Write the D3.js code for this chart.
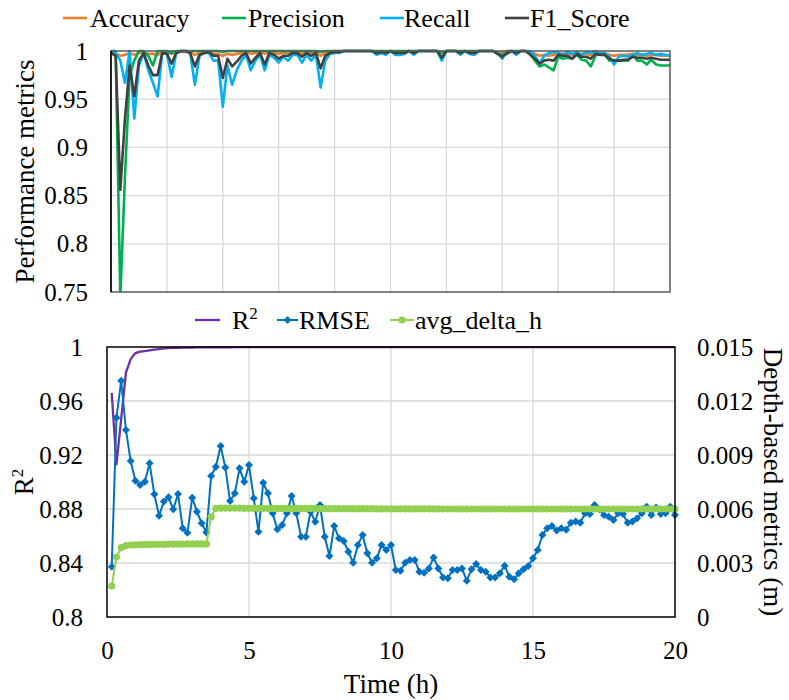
<!DOCTYPE html>
<html><head><meta charset="utf-8">
<script src="https://cdn.jsdelivr.net/npm/d3@7"></script>
<style>
body{margin:0;background:#fff}
svg{display:block}
svg text{font-family:'Liberation Serif','Times New Roman',Times,serif;fill:#000}
</style>
</head><body><svg id="c" width="789" height="700"></svg>
<script>
// ---------- DATA ----------
// Top chart: 121 samples every 10 min (0 h .. 20 h)
const accuracy=[1.000,0.997,0.995,0.996,0.998,0.996,0.998,0.999,0.997,0.997,0.996,
0.999,0.998,0.997,0.999,0.999,0.999,0.999,0.996,0.998,0.999,
0.999,0.997,0.997,0.995,0.997,0.996,0.997,0.998,0.999,0.997,
0.998,0.999,0.997,0.999,0.998,0.997,0.998,0.998,0.999,0.999,
0.997,0.999,0.998,0.999,0.995,0.998,0.999,1,1,1,
1,1,1,1,1,1,0.999,1,0.999,1,
0.999,0.999,0.999,1,0.999,1,1,1,1,1,
0.998,1,1,1,0.999,1,0.999,0.999,1,1,
1,1,0.999,0.998,1,1,0.999,1,1,0.999,
0.997,0.995,0.996,0.995,0.996,0.998,0.997,0.997,0.996,0.998,
0.997,0.997,0.996,0.999,0.998,0.998,0.996,0.995,0.996,0.996,
0.996,0.997,0.996,0.996,0.995,0.996,0.996,0.995,0.995,0.995];
const precision=[1,1,0.745,0.87,0.975,0.99,1,1,0.995,0.985,1,
1,1,0.998,1,1,1,1,1,1,1,
1,1,1,0.999,1,1,1,1,1,1,
1,1,1,1,1,1,1,1,1,1,
1,1,1,1,0.999,1,1,1,1,1,
1,1,1,1,1,1,1,1,1,1,
1,1,1,1,1,1,1,1,1,1,
0.998,1,1,1,1,1,1,1,1,1,
1,1,0.997,0.996,0.997,1,1,1,1,0.997,
0.99,0.984,0.986,0.983,0.98,0.994,0.992,0.993,0.992,0.996,
0.991,0.99,0.984,0.995,0.998,0.996,0.99,0.99,0.99,0.99,
0.99,0.996,0.99,0.99,0.986,0.991,0.986,0.985,0.985,0.985];
const recall=[1,0.998,0.99,0.967,1,0.93,0.985,0.998,0.98,0.967,0.953,
0.998,0.998,0.973,0.998,1,1,0.998,0.965,0.995,0.998,
0.998,0.99,0.99,0.942,0.985,0.965,0.98,0.99,0.996,0.98,
0.99,0.996,0.98,0.996,0.993,0.988,0.994,0.99,0.996,0.996,
0.988,0.996,0.99,0.996,0.962,0.99,0.997,0.998,0.998,1,
1,1,1,1,1,1,0.996,0.998,0.996,1,
0.996,0.996,0.997,1,0.996,1,1,1,1,1,
0.99,1,1,1,0.996,1,0.997,0.996,1,1,
1,1,0.998,0.992,1,1,0.996,1,1,1,
0.995,0.987,0.995,0.998,0.999,0.998,0.996,0.999,0.997,0.999,
0.996,0.999,0.998,1,0.997,0.998,0.994,0.986,0.994,0.995,
0.994,0.996,0.998,0.996,0.997,0.998,0.996,0.997,0.996,0.995];
const f1Score=[0.998,0.995,0.856,0.93,0.985,0.953,0.99,0.998,0.985,0.975,0.975,
0.998,0.997,0.987,0.998,1,1,0.998,0.984,0.996,0.998,
0.999,0.995,0.995,0.972,0.992,0.984,0.989,0.995,0.998,0.987,
0.993,0.998,0.986,0.998,0.996,0.992,0.995,0.995,0.998,0.998,
0.994,0.998,0.995,0.998,0.982,0.995,0.998,0.999,0.999,1,
1,1,1,1,1,1,0.998,0.999,0.998,1,
0.998,0.998,0.998,1,0.998,1,1,1,1,1,
0.993,1,1,1,0.998,1,0.998,0.998,1,1,
1,1,0.997,0.994,0.998,1,0.998,1,1,0.996,
0.992,0.987,0.99,0.991,0.99,0.996,0.995,0.995,0.992,0.997,
0.994,0.994,0.992,0.997,0.996,0.996,0.992,0.99,0.99,0.991,
0.991,0.994,0.993,0.993,0.992,0.993,0.992,0.991,0.991,0.991];

// Bottom chart: 120 samples every 10 min (1/6 h .. 20 h)
const r2=[0.966,0.913,0.947,0.981,0.991,0.9955,0.9965,0.997,0.9975,0.998,
0.9985,0.999,0.9992,0.9993,0.9994,0.9995,0.9996,0.9996,0.9997,0.9997,
0.9997,0.9998,0.9998,0.9998,0.9998,0.9998,0.9999,0.9999,0.9999,0.9999,
0.9999,0.9999,0.9999,0.9999,0.9999,0.9999,0.9999,0.9999,0.9999,0.9999,
0.9999,0.9999,0.9999,0.9999,0.9999,0.9999,0.9999,0.9999,0.9999,0.9999,
0.9999,0.9999,0.9999,0.9999,0.9999,0.9999,0.9999,0.9999,0.9999,0.9999,
0.9999,0.9999,0.9999,0.9999,0.9999,0.9999,0.9999,0.9999,0.9999,0.9999,
0.9999,0.9999,0.9999,0.9999,0.9999,0.9999,0.9999,0.9999,0.9999,0.9999,
0.9999,0.9999,0.9999,0.9999,0.9999,0.9999,0.9999,0.9999,0.9999,0.9999,
0.9999,0.9999,0.9999,0.9999,0.9999,0.9999,0.9999,0.9999,0.9999,0.9999,
0.9999,0.9999,0.9999,0.9999,0.9999,0.9999,0.9999,0.9999,0.9999,0.9999,
0.9999,0.9999,0.9999,0.9999,0.9999,0.9999,0.9999,0.9999,0.9999,0.9999];
const rmse=[0.00279,0.01107,0.01313,0.01039,0.00867,0.00757,0.00733,0.00752,0.00854,0.00682,
0.00563,0.00641,0.00665,0.00598,0.00683,0.00493,0.00468,0.00663,0.00585,0.00521,
0.0047,0.00783,0.00835,0.0095,0.0083,0.00644,0.00687,0.00826,0.00752,0.00844,
0.0066,0.00474,0.00746,0.00687,0.00576,0.00487,0.00511,0.00576,0.00672,0.00576,
0.00446,0.00446,0.00585,0.00529,0.00622,0.00446,0.00339,0.00506,0.00437,0.00422,
0.00363,0.00302,0.004,0.00456,0.00354,0.00302,0.00326,0.004,0.00372,0.004,
0.00261,0.00257,0.00302,0.00317,0.00317,0.00252,0.00246,0.0027,0.00331,0.0027,
0.0022,0.00215,0.00261,0.00261,0.0027,0.00202,0.00265,0.00294,0.00261,0.00252,
0.0022,0.0022,0.00243,0.00285,0.00224,0.0021,0.00243,0.00265,0.00283,0.00326,
0.00372,0.00456,0.00493,0.00506,0.0048,0.00493,0.00485,0.00524,0.0053,0.00524,
0.00576,0.00572,0.00622,0.00598,0.00567,0.00557,0.00539,0.00576,0.00572,0.00524,
0.0053,0.00548,0.00576,0.00613,0.00567,0.00609,0.00572,0.00576,0.00613,0.00567];
const avgDeltaH=[0.00172,0.00333,0.00385,0.00396,0.004,0.00401,0.00402,0.00403,0.00403,0.00404,
0.00404,0.00404,0.00405,0.00405,0.00405,0.00405,0.00406,0.00406,0.00406,0.00406,
0.00406,0.00557,0.00604,0.00605,0.00605,0.00605,0.00605,0.00605,0.00604,0.00604,
0.00604,0.00604,0.00604,0.00604,0.00603,0.00603,0.00603,0.00603,0.00603,0.00603,
0.00603,0.00603,0.00603,0.00603,0.00602,0.00602,0.00602,0.00602,0.00602,0.00602,
0.00602,0.00602,0.00602,0.00602,0.00602,0.00602,0.00601,0.00601,0.00601,0.00601,
0.00601,0.00601,0.00601,0.00601,0.00601,0.00601,0.00601,0.00601,0.00601,0.00601,
0.006,0.006,0.006,0.006,0.006,0.006,0.006,0.006,0.006,0.006,
0.006,0.006,0.006,0.006,0.006,0.006,0.006,0.006,0.006,0.006,
0.006,0.006,0.006,0.006,0.006,0.006,0.006,0.006,0.006,0.006,
0.006,0.006,0.006,0.006,0.006,0.006,0.006,0.006,0.006,0.006,
0.006,0.006,0.006,0.006,0.006,0.006,0.006,0.006,0.006,0.006];

const topTicks=[0.75,0.8,0.85,0.9,0.95,1];
const topTickLabels=["0.75","0.8","0.85","0.9","0.95","1"];
const leftTicks=[0.8,0.84,0.88,0.92,0.96,1];
const leftTickLabels=["0.8","0.84","0.88","0.92","0.96","1"];
const rightTicks=[0,0.003,0.006,0.009,0.012,0.015];
const rightTickLabels=["0","0.003","0.006","0.009","0.012","0.015"];
const timeTicks=[0,5,10,15,20];
const timeTickLabels=["0","5","10","15","20"];
const topSeriesNames=["Accuracy","Precision","Recall","F1_Score"];
const bottomSeriesNames=["R2","RMSE","avg_delta_h"];

// sample times (hours): category positions
const tTop=d3.range(accuracy.length).map(i=>i/6);
const tBot=d3.range(1,rmse.length+1).map(i=>i/6);

// ---------- LAYOUT ----------
const svg=d3.select("#c");
const FONT="Liberation Serif";
const GRID="#d9d9d9";
const colors={Accuracy:"#ED7D31",Precision:"#00B050",Recall:"#00B0F0",F1_Score:"#404040",
  R2:"#7030A0",RMSE:"#0070C0",avg_delta_h:"#92D050"};

// ===== Top chart =====
const T={l:111,r:670,t:51,b:292};
const xT=d3.scaleLinear([0,20],[T.l,T.r]);
const yT=d3.scaleLinear([0.75,1],[T.b,T.t]);

const gT=svg.append("g");
gT.selectAll("line.hg").data(topTicks.slice(1,-1)).join("line")
  .attr("x1",T.l).attr("x2",T.r).attr("y1",d=>yT(d)).attr("y2",d=>yT(d))
  .attr("stroke",GRID).attr("stroke-width",1.3);
gT.selectAll("line.vg").data(d3.range(2,20,2)).join("line")
  .attr("y1",T.t).attr("y2",T.b).attr("x1",d=>xT(d)).attr("x2",d=>xT(d))
  .attr("stroke",GRID).attr("stroke-width",1.3);

svg.append("defs").append("clipPath").attr("id","clipT")
  .append("rect").attr("x",T.l).attr("y",T.t-3).attr("width",T.r-T.l).attr("height",T.b-T.t+3);

const topSeries=[accuracy,precision,recall,f1Score];
const lineT=d3.line().x((d,i)=>xT(tTop[i])).y(d=>yT(d));
gT.append("g").attr("clip-path","url(#clipT)")
  .selectAll("path").data(topSeries).join("path")
  .attr("d",d=>lineT(d)).attr("fill","none")
  .attr("stroke",(d,i)=>colors[topSeriesNames[i]])
  .attr("stroke-width",2.6).attr("stroke-linejoin","round");

gT.append("rect").attr("x",T.l).attr("y",T.t).attr("width",T.r-T.l).attr("height",T.b-T.t)
  .attr("fill","none").attr("stroke","#595959").attr("stroke-width",1.5);
gT.append("line").attr("x1",T.l).attr("x2",T.l).attr("y1",T.t).attr("y2",T.b)
  .attr("stroke","#000").attr("stroke-width",1.5);

const axT=d3.axisLeft(yT).tickValues(topTicks).tickSize(0).tickPadding(23)
  .tickFormat((d,i)=>topTickLabels[i]);
const gaT=gT.append("g").attr("transform",`translate(${T.l},0)`).call(axT);
gaT.select(".domain").remove();
gaT.attr("font-family",FONT).attr("font-size",25);
gaT.selectAll("text").attr("fill","#000");

gT.append("text").attr("transform",`translate(25,${(T.t+T.b)/2}) rotate(-90)`)
  .attr("text-anchor","middle").attr("dy","0.35em").attr("font-size",27)
  .text("Performance metrics");

const legT=[{x:63,tx:90},{x:222,tx:248},{x:380,tx:404},{x:505,tx:530}];
topSeriesNames.forEach((n,i)=>{
  const g=svg.append("g");
  g.append("line").attr("x1",legT[i].x).attr("x2",legT[i].x+24).attr("y1",18).attr("y2",18)
   .attr("stroke",colors[n]).attr("stroke-width",2.6);
  g.append("text").attr("x",legT[i].tx).attr("y",18).attr("dy","0.35em")
   .attr("font-size",26).text(n);
});

// ===== Bottom chart =====
const B={l:107,r:675,t:347,b:617};
const xB=d3.scaleLinear([0,20],[B.l,B.r]);
const yL=d3.scaleLinear([0.8,1],[B.b,B.t]);
const yR=d3.scaleLinear([0,0.015],[B.b,B.t]);

const gB=svg.append("g");
gB.selectAll("line.hg").data(leftTicks.slice(1,-1)).join("line")
  .attr("x1",B.l).attr("x2",B.r).attr("y1",d=>yL(d)).attr("y2",d=>yL(d))
  .attr("stroke",GRID).attr("stroke-width",1.3);
gB.selectAll("line.vg").data(timeTicks.slice(1,-1)).join("line")
  .attr("y1",B.t).attr("y2",B.b).attr("x1",d=>xB(d)).attr("x2",d=>xB(d))
  .attr("stroke",GRID).attr("stroke-width",1.3);

gB.append("path").datum(r2)
  .attr("d",d3.line().x((d,i)=>xB(tBot[i])).y(d=>yL(d)))
  .attr("fill","none").attr("stroke",colors.R2).attr("stroke-width",2.3).attr("stroke-linejoin","round");

const lineR=d3.line().x((d,i)=>xB(tBot[i])).y(d=>yR(d));
gB.append("path").datum(rmse).attr("d",lineR)
  .attr("fill","none").attr("stroke",colors.RMSE).attr("stroke-width",2);
const diamond=(cx,cy,r)=>`M${cx},${cy-r}L${cx+r},${cy}L${cx},${cy+r}L${cx-r},${cy}Z`;
gB.append("g").selectAll("path").data(rmse).join("path")
  .attr("d",(d,i)=>diamond(xB(tBot[i]),yR(d),4)).attr("fill",colors.RMSE);

gB.append("path").datum(avgDeltaH).attr("d",lineR)
  .attr("fill","none").attr("stroke",colors.avg_delta_h).attr("stroke-width",2);
gB.append("g").selectAll("circle").data(avgDeltaH).join("circle")
  .attr("cx",(d,i)=>xB(tBot[i])).attr("cy",d=>yR(d)).attr("r",3.6)
  .attr("fill",colors.avg_delta_h);

gB.append("rect").attr("x",B.l).attr("y",B.t).attr("width",B.r-B.l).attr("height",B.b-B.t)
  .attr("fill","none").attr("stroke","#000").attr("stroke-width",1.5);

const axL=d3.axisLeft(yL).tickValues(leftTicks).tickSize(0).tickPadding(24)
  .tickFormat((d,i)=>leftTickLabels[i]);
const gaL=gB.append("g").attr("transform",`translate(${B.l},0)`).call(axL);
const axR=d3.axisRight(yR).tickValues(rightTicks).tickSize(0).tickPadding(22)
  .tickFormat((d,i)=>rightTickLabels[i]);
const gaR=gB.append("g").attr("transform",`translate(${B.r},0)`).call(axR);
const axX=d3.axisBottom(xB).tickValues(timeTicks).tickSize(0).tickPadding(24)
  .tickFormat((d,i)=>timeTickLabels[i]);
const gaX=gB.append("g").attr("transform",`translate(0,${B.b})`).call(axX);
[gaL,gaR,gaX].forEach(g=>{
  g.select(".domain").remove();
  g.attr("font-family",FONT).attr("font-size",25);
  g.selectAll("text").attr("fill","#000");
});

const tR2=gB.append("text").attr("transform",`translate(24,${(B.t+B.b)/2}) rotate(-90)`)
  .attr("text-anchor","middle").attr("dy","0.35em").attr("font-size",27);
tR2.append("tspan").text("R");
tR2.append("tspan").attr("font-size",17).attr("dy","-0.6em").text("2");

gB.append("text").attr("transform",`translate(773,${(B.t+B.b)/2}) rotate(90)`)
  .attr("text-anchor","middle").attr("dy","0.35em").attr("font-size",27)
  .text("Depth-based metrics (m)");

gB.append("text").attr("x",(B.l+B.r)/2).attr("y",684).attr("dy","0.35em")
  .attr("text-anchor","middle").attr("font-size",27).text("Time (h)");

const LY=320;
const lg=svg.append("g");
lg.append("line").attr("x1",195).attr("x2",220).attr("y1",LY).attr("y2",LY)
  .attr("stroke",colors.R2).attr("stroke-width",2.3);
const lt=lg.append("text").attr("x",232).attr("y",LY).attr("dy","0.35em").attr("font-size",26);
lt.append("tspan").text("R");
lt.append("tspan").attr("font-size",17).attr("dy","-0.6em").text("2");

lg.append("line").attr("x1",277).attr("x2",298).attr("y1",LY).attr("y2",LY)
  .attr("stroke",colors.RMSE).attr("stroke-width",2);
lg.append("path").attr("d",diamond(287.5,LY,4)).attr("fill",colors.RMSE);
lg.append("text").attr("x",299).attr("y",LY).attr("dy","0.35em").attr("font-size",26).text(bottomSeriesNames[1]);

lg.append("line").attr("x1",390).attr("x2",414).attr("y1",LY).attr("y2",LY)
  .attr("stroke",colors.avg_delta_h).attr("stroke-width",2);
lg.append("circle").attr("cx",402).attr("cy",LY).attr("r",3.6).attr("fill",colors.avg_delta_h);
lg.append("text").attr("x",415).attr("y",LY).attr("dy","0.35em").attr("font-size",26).text(bottomSeriesNames[2]);
</script>
</body></html>
